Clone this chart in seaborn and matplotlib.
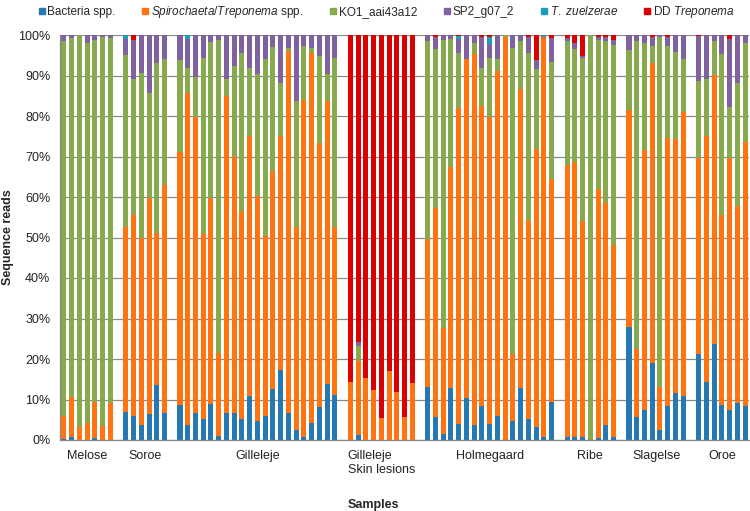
import pandas as pd
import matplotlib
matplotlib.use("Agg")
import matplotlib.pyplot as plt
from matplotlib.lines import Line2D
from matplotlib.ticker import FuncFormatter, MultipleLocator
import seaborn as sns

# -- sites and number of samples per site
sites = ["Melose", "Soroe", "Gilleleje", "Gilleleje\nSkin lesions",
         "Holmegaard", "Ribe", "Slagelse", "Oroe"]
n_samples = [7, 6, 21, 9, 17, 7, 8, 7]

# -- relative abundance (%) per sample, in site order
bacteria = [
    0.3, 0.7, 0, 0, 0.4, 0, 0,
    7.0, 6.0, 3.7, 6.4, 13.7, 6.6,
    8.6, 3.7, 6.6, 5.2, 8.8, 1.1, 6.7, 6.6, 5.2, 10.9, 4.7, 5.9, 12.6, 17.3, 6.7, 2.5, 0.8, 4.1, 8.2, 13.8, 11.1,
    0, 1.2, 0, 0, 0, 0, 0, 0, 0,
    13.0, 5.8, 1.4, 12.8, 4.0, 10.3, 3.7, 8.4, 3.9, 5.9, 0, 4.8, 12.9, 5.3, 3.3, 0.7, 9.5,
    0.7, 0.7, 0.7, 0, 0.4, 3.7, 0.7,
    28.0, 5.8, 7.4, 19.1, 2.5, 8.4, 11.7, 10.9,
    21.2, 14.2, 23.6, 8.6, 7.4, 9.2, 8.5,
]
spirochaeta = [
    5.7, 10.0, 3.1, 4.1, 9.1, 3.5, 9.2,
    45.5, 49.6, 46.3, 53.3, 37.5, 56.4,
    62.6, 81.9, 73.1, 45.7, 51.0, 20.5, 78.3, 63.4, 51.3, 64.2, 55.6, 44.5, 53.7, 57.8, 89.4, 50.2, 83.2, 91.4, 65.1, 69.9, 41.4,
    14.2, 18.3, 15.2, 12.3, 5.5, 17.0, 11.9, 5.8, 14.0,
    36.6, 51.4, 26.3, 54.5, 77.9, 83.7, 91.6, 74.1, 75.8, 85.3, 99.4, 16.4, 73.7, 48.9, 68.6, 98.7, 54.9,
    67.2, 68.0, 53.4, 0, 61.5, 54.7, 47.4,
    53.5, 16.6, 64.2, 73.9, 10.7, 66.1, 62.5, 70.2,
    48.5, 60.9, 66.5, 47.0, 62.3, 48.7, 65.2,
]
ko1 = [
    92.4, 88.5, 96.9, 93.9, 89.3, 96.1, 90.1,
    42.6, 33.5, 40.5, 26.1, 41.8, 31.0,
    22.6, 6.3, 10.0, 43.5, 38.4, 77.2, 4.1, 22.3, 39.0, 16.8, 30.0, 43.7, 30.8, 13.1, 0.6, 31.0, 13.3, 1.2, 21.4, 6.6, 41.9,
    0, 3.7, 0, 0, 0, 0, 0, 0, 0,
    49.0, 39.3, 71.1, 31.7, 13.7, 0, 2.8, 9.4, 14.7, 2.8, 0.6, 75.5, 12.0, 41.3, 19.6, 0, 29.0,
    30.5, 27.8, 40.1, 100, 36.9, 40.0, 49.4,
    14.8, 76.0, 26.5, 4.3, 86.2, 22.8, 21.7, 12.9,
    19.0, 14.0, 8.3, 39.7, 12.4, 30.2, 24.4,
]
sp2 = [
    1.6, 0.8, 0, 2.0, 1.2, 0.4, 0.7,
    3.9, 9.7, 9.5, 14.2, 7.0, 6.0,
    6.2, 7.0, 10.3, 5.6, 1.8, 1.2, 10.9, 7.7, 4.5, 8.1, 9.7, 5.9, 2.9, 11.8, 3.3, 16.3, 2.7, 3.3, 5.3, 9.7, 5.6,
    0, 1.1, 0, 0, 0, 0, 0, 0, 0,
    1.4, 3.0, 1.2, 1.0, 3.3, 6.0, 1.9, 7.5, 3.4, 6.0, 0, 3.3, 1.4, 3.9, 2.3, 0.3, 5.8,
    0.8, 1.5, 0.7, 0, 0.8, 1.0, 1.3,
    3.7, 1.6, 1.9, 2.3, 0.6, 2.3, 4.1, 6.0,
    11.1, 10.9, 1.6, 4.7, 16.8, 11.9, 1.9,
]
zuelzerae = [
    0, 0, 0, 0, 0, 0, 0,
    1.0, 0, 0, 0, 0, 0,
    0, 1.1, 0, 0, 0, 0, 0, 0, 0, 0, 0, 0, 0, 0, 0, 0, 0, 0, 0, 0, 0,
    0, 0, 0, 0, 0, 0, 0, 0, 0,
    0, 0, 0, 0, 0.9, 0, 0, 0, 1.6, 0, 0, 0, 0, 0, 0, 0.3, 0,
    0, 0, 0, 0, 0, 0, 0,
    0, 0, 0, 0, 0, 0, 0, 0,
    0, 0, 0, 0, 0, 0, 0,
]
dd_treponema = [
    0, 0, 0, 0, 0, 0, 0,
    0, 1.2, 0, 0, 0, 0,
    0, 0, 0, 0, 0, 0, 0, 0, 0, 0, 0, 0, 0, 0, 0, 0, 0, 0, 0, 0, 0,
    85.8, 75.7, 84.8, 87.7, 94.5, 83.0, 88.1, 94.2, 86.0,
    0, 0.5, 0, 0, 0.2, 0, 0, 0.6, 0.6, 0, 0, 0, 0, 0.6, 6.2, 0, 0.8,
    0.8, 2.0, 5.1, 0, 0.4, 0.6, 1.2,
    0, 0, 0, 0.4, 0, 0.4, 0, 0,
    0.2, 0, 0, 0, 1.1, 0, 0,
]

series = ["Bacteria", "Spirochaeta", "KO1", "SP2", "Tzuel", "DD"]
labels = ["Bacteria spp.", r"$\it{Spirochaeta/Treponema}$ spp.", "KO1_aai43a12",
          "SP2_g07_2", r"$\it{T.\ zuelzerae}$", r"DD $\it{Treponema}$"]
colors = ["#2678B2", "#FF7410", "#86AA4D", "#8062A0", "#1C9DBB", "#DD0000"]

# -- sample ids with an empty slot between sites
sample_ids, order, centers = [], [], []
for g, n in enumerate(n_samples):
    if g > 0:
        order.append(f"gap{g}")
    start = len(order)
    for j in range(n):
        sid = f"s{g}_{j}"
        sample_ids.append(sid)
        order.append(sid)
    centers.append((start + len(order) - 1) / 2)

df = pd.DataFrame({"sample": sample_ids, "Bacteria": bacteria, "Spirochaeta": spirochaeta,
                   "KO1": ko1, "SP2": sp2, "Tzuel": zuelzerae, "DD": dd_treponema})
cum = df[series].cumsum(axis=1)
cum["sample"] = df["sample"]

sns.set_theme(style="white")
plt.rcParams['font.family'] = ['Liberation Sans', 'DejaVu Sans']
plt.rcParams['mathtext.fontset'] = 'custom'
plt.rcParams['mathtext.rm'] = 'Liberation Sans'
plt.rcParams['mathtext.it'] = 'Liberation Sans:italic'

fig = plt.figure(figsize=(7.5, 5.11), dpi=100)
ax = fig.add_axes([60 / 750, 1 - 440 / 511, 689 / 750, 405 / 511])

# draw stacks from the top segment down
for col, c in reversed(list(zip(series, colors))):
    sns.barplot(data=cum, x="sample", y=col, order=order, color=c, width=0.65,
                saturation=1, errorbar=None, linewidth=0, ax=ax)

ax.set_ylim(0, 100)
ax.set_xlim(-0.5, len(order) - 0.5)
ax.yaxis.set_major_locator(MultipleLocator(10))
ax.yaxis.set_major_formatter(FuncFormatter(lambda v, p: f"{int(v)}%"))
ax.yaxis.grid(True, color="#8a8a8a", linewidth=0.9)
ax.set_axisbelow(True)
ax.set_xticks([])
ax.set_xlabel("")
ax.set_ylabel("")
ax.tick_params(axis="y", length=0, pad=7, labelsize=9, labelcolor="#222222")
for s in ["top", "right"]:
    ax.spines[s].set_visible(False)
for s in ["left", "bottom"]:
    ax.spines[s].set_color("#8a8a8a")
    ax.spines[s].set_linewidth(0.9)

for site, c in zip(sites, centers):
    ax.annotate(site, xy=(c, 0), xycoords=("data", "axes fraction"), xytext=(0, -7),
                textcoords="offset points", ha="center", va="top", multialignment="left",
                fontsize=9, color="#222222")

fig.text(373 / 750, 1 - 505 / 511, "Samples", ha="center", va="center",
         fontsize=9, fontweight="bold")
fig.text(8 / 750, 1 - 237 / 511, "Sequence reads", ha="center", va="center",
         rotation=90, fontsize=9, fontweight="bold")

handles = [Line2D([], [], marker="s", linestyle="none", markersize=5, color=c) for c in colors]
fig.legend(handles, labels, loc="center left", bbox_to_anchor=(38 / 750, 1 - 12 / 511), ncol=6,
           frameon=False, fontsize=8.5, handlelength=0.6, handletextpad=0.2,
           columnspacing=2.2, borderaxespad=0, borderpad=0)

fig.savefig("out.png", dpi=100)
